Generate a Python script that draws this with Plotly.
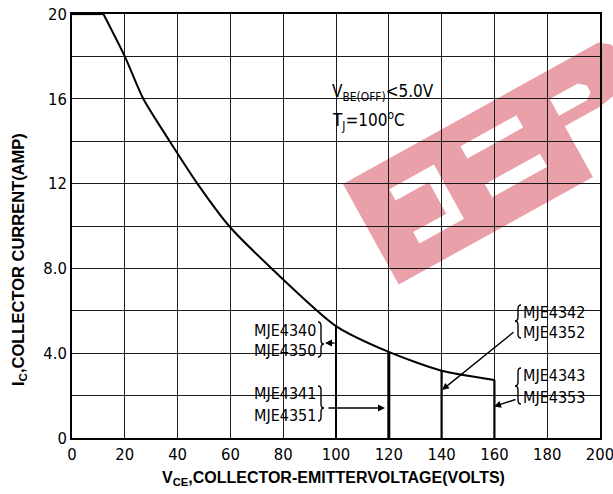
import math
import plotly.graph_objects as go

# ---------------- data ----------------
vce = [0, 11.9, 20, 27, 37, 47.5, 59.5, 75.6, 100, 120, 140, 160]
ic = [20, 20, 18, 16, 14, 12, 10, 8, 5.28, 4.06, 3.17, 2.74]

limit_vce = [100, 120, 140, 160]
limit_ic = [5.28, 4.06, 3.17, 2.74]

x_tickvals = [0, 20, 40, 60, 80, 100, 120, 140, 160, 180, 200]
x_ticktext = ["0", "20", "40", "60", "80", "100", "120", "140", "160", "180", "200"]
y_tickvals = [0, 2, 4, 6, 8, 10, 12, 14, 16, 18, 20]
y_ticktext = ["0", "", "4.0", "", "8.0", "", "12", "", "16", "", "20"]

labels_left = [["MJE4340", "MJE4350"], ["MJE4341", "MJE4351"]]
labels_right = [["MJE4342", "MJE4352"], ["MJE4343", "MJE4353"]]

# ---------------- layout geometry ----------------
W, H = 613, 494
L, R, T, B = 72, 13, 14, 56
PW = W - L - R
PH = H - T - B

NARROW = "DejaVu Sans Condensed, Liberation Sans Narrow, Arial Narrow, sans-serif"
BOLD = "Liberation Sans, Arial, sans-serif"


def px(x):
    return (x - L) / PW


def py(y):
    return (T + PH - y) / PH


fig = go.Figure()

# curve: flat segment + curved segment
fig.add_trace(go.Scatter(x=vce[:2], y=ic[:2], mode="lines",
                         line=dict(color="black", width=2.2), hoverinfo="skip"))
fig.add_trace(go.Scatter(x=vce[1:], y=ic[1:], mode="lines",
                         line=dict(color="black", width=2, shape="spline", smoothing=0.7),
                         hoverinfo="skip"))

widths = [2, 3, 2.2, 2.2]
for xv, yv, w in zip(limit_vce, limit_ic, widths):
    fig.add_trace(go.Scatter(x=[xv, xv], y=[0, yv], mode="lines",
                             line=dict(color="black", width=w), hoverinfo="skip"))

shapes = []
# white boxes hiding grid under labels
for (x0, y0, x1, y1) in [(327, 72, 443, 133), (252, 313, 319, 430), (516, 304, 588, 410)]:
    shapes.append(dict(type="rect", xref="paper", yref="paper", layer="between",
                       x0=px(x0), x1=px(x1), y0=py(y1), y1=py(y0),
                       fillcolor="white", line=dict(width=0)))

# watermark
c, s = math.cos(math.radians(29)), math.sin(math.radians(29))
OX, OY = 343, 184


def uv(u, v):
    return OX + u * c + v * s, OY - u * s + v * c


def area(poly):
    a = 0
    for i in range(len(poly)):
        x1, y1 = poly[i]
        x2, y2 = poly[(i + 1) % len(poly)]
        a += x1 * y2 - x2 * y1
    return a


outer = [(0, 0), (292, 0), (302, 8), (306, 22), (304, 36), (297, 46), (285, 53),
         (262, 57), (222, 57), (222, 115), (0, 115)]
holes = [
    [(38, 27), (89, 27), (89, 89), (38, 89), (38, 76), (76, 76), (76, 40), (38, 40)],
    [(121, 24), (185, 24), (185, 38), (121, 38)],
    [(124, 69), (187, 69), (187, 84), (124, 84)],
    [(222, 26), (254, 26), (261, 32), (261, 40), (254, 45), (222, 45)],
]


def subpath(poly, sign):
    pts = [uv(u, v) for u, v in poly]
    if (area(pts) > 0) != (sign > 0):
        pts = pts[::-1]
    return "M " + " L ".join(f"{px(x):.5f},{py(y):.5f}" for x, y in pts) + " Z"


wpath = subpath(outer, 1) + " " + " ".join(subpath(h, -1) for h in holes)
shapes.append(dict(type="path", xref="paper", yref="paper", layer="between",
                   path=wpath, fillcolor="rgb(211,66,82)", opacity=0.5,
                   line=dict(width=0)))


# braces
def brace(x0, ytop, ybot, ytip, w):
    xm = x0 + w / 2
    xt = x0 + w
    r = 4
    pts = [
        ("M", [(x0, ytop)]),
        ("Q", [(xm, ytop), (xm, ytop + r)]),
        ("L", [(xm, ytip - r)]),
        ("Q", [(xm, ytip), (xt, ytip)]),
        ("Q", [(xm, ytip), (xm, ytip + r)]),
        ("L", [(xm, ybot - r)]),
        ("Q", [(xm, ybot), (x0, ybot)]),
    ]
    out = []
    for cmd, ps in pts:
        out.append(cmd + " " + " ".join(f"{px(a):.5f},{py(b):.5f}" for a, b in ps))
    return " ".join(out)


for args in [(318, 322, 357, 344, 6), (318, 386, 421, 408, 6),
             (521, 305, 338, 321, -6), (521, 368, 404, 386, -6)]:
    shapes.append(dict(type="path", xref="paper", yref="paper", layer="above",
                       path=brace(*args), line=dict(color="black", width=1.4)))

annotations = []
LBL = dict(family=NARROW, size=16, color="black")
for (a, b), (ya, yb) in zip(labels_left, [(330, 350), (393, 415)]):
    for t, yy in [(a, ya), (b, yb)]:
        annotations.append(dict(text=t, xref="paper", yref="paper", x=px(318), y=py(yy),
                                xanchor="right", yanchor="middle", showarrow=False, font=LBL))
for (a, b), (ya, yb) in zip(labels_right, [(312, 332), (375, 397)]):
    for t, yy in [(a, ya), (b, yb)]:
        annotations.append(dict(text=t, xref="paper", yref="paper", x=px(521), y=py(yy),
                                xanchor="left", yanchor="middle", showarrow=False, font=LBL))


def dx(x):
    return (x - L) / PW * 200


def dy(y):
    return (T + PH - y) / PH * 20


for (hx, hy, tx, ty) in [(325, 343, 336, 343), (385, 408, 327, 408),
                         (442, 390, 515, 331), (494, 406.5, 517, 399)]:
    annotations.append(dict(text="", x=dx(hx), y=dy(hy), ax=dx(tx), ay=dy(ty),
                            xref="x", yref="y", axref="x", ayref="y",
                            showarrow=True, arrowhead=2, arrowsize=1, arrowwidth=1.4,
                            arrowcolor="black", standoff=0, startstandoff=0))

# conditions
annotations.append(dict(text="V<sub>BE(OFF)</sub><5.0V", xref="paper", yref="paper",
                        x=px(330), y=py(92), xanchor="left", yanchor="middle", showarrow=False,
                        font=dict(family=NARROW, size=17, color="black")))
annotations.append(dict(text="T<sub>J</sub>=100<sup>o</sup>C", xref="paper", yref="paper",
                        x=px(330), y=py(120), xanchor="left", yanchor="middle", showarrow=False,
                        font=dict(family=NARROW, size=17, color="black")))

# axis titles
annotations.append(dict(text="<b>V<sub>CE</sub>,COLLECTOR-EMITTERVOLTAGE(VOLTS)</b>",
                        xref="paper", yref="paper", x=px(333), y=py(478),
                        xanchor="center", yanchor="middle", showarrow=False,
                        font=dict(family=BOLD, size=16, color="black")))
annotations.append(dict(text="<b>I<sub>C</sub>,COLLECTOR CURRENT(AMP)</b>",
                        xref="paper", yref="paper", x=px(19), y=py(260), textangle=-90,
                        xanchor="center", yanchor="middle", showarrow=False,
                        font=dict(family=BOLD, size=16.5, color="black")))

axis_common = dict(showline=True, mirror=True, linecolor="black", linewidth=1.5,
                   showgrid=True, gridcolor="#1a1a1a", gridwidth=1.2, zeroline=False,
                   ticks="", automargin=False, ticklabeloverflow="allow",
                   tickfont=dict(family=NARROW, size=16.5, color="black"))

fig.update_layout(
    width=W, height=H,
    margin=dict(l=L, r=R, t=T, b=B, pad=0, autoexpand=False),
    paper_bgcolor="white", plot_bgcolor="white",
    showlegend=False,
    xaxis=dict(range=[0, 200], tickvals=x_tickvals, ticktext=x_ticktext, **axis_common),
    yaxis=dict(range=[0, 20], tickvals=y_tickvals, ticktext=y_ticktext, **axis_common),
    shapes=shapes,
    annotations=annotations,
)

fig.write_html("out.html", config={"displayModeBar": False},
               post_script="document.body.style.margin='0px';")
